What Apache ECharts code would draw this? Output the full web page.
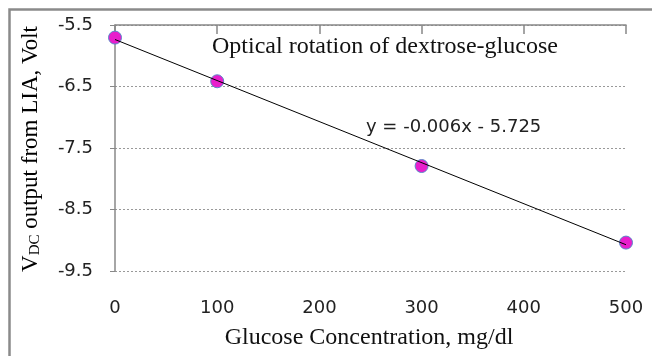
<!DOCTYPE html>
<html>
<head>
<meta charset="utf-8">
<script src="https://cdn.jsdelivr.net/npm/echarts@6/dist/echarts.min.js"></script>
<style>html,body{margin:0;padding:0;background:#fff}#c{width:652px;height:356px}</style>
</head>
<body>
<div id="c"></div>
<script>
// Data
var concentrations = [0, 100, 300, 500];
var voltages = [-5.705, -6.415, -7.793, -9.038];
var xTicks = [0, 100, 200, 300, 400, 500];
var yTicks = [-9.5, -8.5, -7.5, -6.5, -5.5];
var titleText = 'Optical rotation of dextrose-glucose';
var equationText = 'y = -0.006x - 5.725';
var xTitle = 'Glucose Concentration, mg/dl';

// Linear trendline (least squares) from the data
var n = concentrations.length, mx = 0, my = 0;
for (var i = 0; i < n; i++) { mx += concentrations[i]; my += voltages[i]; }
mx /= n; my /= n;
var sxy = 0, sxx = 0;
for (var i = 0; i < n; i++) { sxy += (concentrations[i]-mx)*(voltages[i]-my); sxx += (concentrations[i]-mx)*(concentrations[i]-mx); }
var slope = sxy / sxx, icpt = my - slope * mx;
var xMin = xTicks[0], xMax = xTicks[xTicks.length-1];
var trend = [[xMin, icpt + slope*xMin], [xMax, icpt + slope*xMax]];

var chart = echarts.init(document.getElementById('c'));
chart.setOption({
  animation: false,
  grid: { left: 115, right: 26, top: 25, bottom: 85 },
  xAxis: [{
    type: 'value', position: 'bottom', min: xMin, max: xMax, interval: 100,
    axisLine: { show: false }, axisTick: { show: false }, splitLine: { show: false },
    axisLabel: { margin: 28, fontFamily: 'DejaVu Sans', fontSize: 18, color: '#222' }
  }, {
    type: 'value', position: 'top', min: xMin, max: xMax, interval: 100,
    axisLine: { show: true, lineStyle: { color: '#888', width: 1.5 } },
    axisTick: { show: true, inside: true, length: 9, lineStyle: { color: '#888', width: 1.5 } },
    axisLabel: { show: false }, splitLine: { show: false }
  }],
  yAxis: {
    type: 'value', min: yTicks[0], max: yTicks[yTicks.length-1], interval: 1,
    axisLine: { show: true, onZero: false, lineStyle: { color: '#888', width: 1.5 } },
    axisTick: { show: true, length: 5, lineStyle: { color: '#888' } },
    axisLabel: { margin: 22, fontFamily: 'DejaVu Sans', fontSize: 18, color: '#222',
      formatter: function (v) { return v.toFixed(1); } },
    splitLine: { show: true, lineStyle: { color: '#999', type: [2, 2], width: 1 } }
  },
  series: [{
    type: 'line', data: trend, symbol: 'none', silent: true,
    lineStyle: { color: '#000', width: 1 }, z: 3
  }, {
    type: 'scatter', data: concentrations.map(function (x, i) { return [x, voltages[i]]; }),
    symbolSize: 13, z: 2,
    itemStyle: { color: '#E81ECC', borderColor: '#5B86C8', borderWidth: 1, opacity: 1 }
  }],
  graphic: [
    { type: 'rect', left: 7, top: 7, shape: { width: 700, height: 400 },
      style: { fill: 'none', stroke: '#8a8a8a', lineWidth: 2.5 }, silent: true },
    { type: 'text', x: 212, y: 47, style: { text: titleText, font: '24px "Liberation Serif"', fill: '#111', verticalAlign: 'middle' } },
    { type: 'text', x: 366, y: 127, style: { text: equationText, font: '18px "DejaVu Sans"', fill: '#222', verticalAlign: 'middle' } },
    { type: 'text', x: 369, y: 338, style: { text: xTitle, font: '24px "Liberation Serif"', fill: '#111', align: 'center', verticalAlign: 'middle' } },
    { type: 'text', x: 31, y: 149, rotation: Math.PI / 2,
      style: { text: '{a|V}{s|DC}{a| output from LIA, Volt}', align: 'center', verticalAlign: 'middle',
        rich: { a: { fontFamily: 'Liberation Serif', fontSize: 23, color: '#111' },
                s: { fontFamily: 'Liberation Serif', fontSize: 15, color: '#111', verticalAlign: 'bottom' } } } }
  ]
});
</script>
</body>
</html>
